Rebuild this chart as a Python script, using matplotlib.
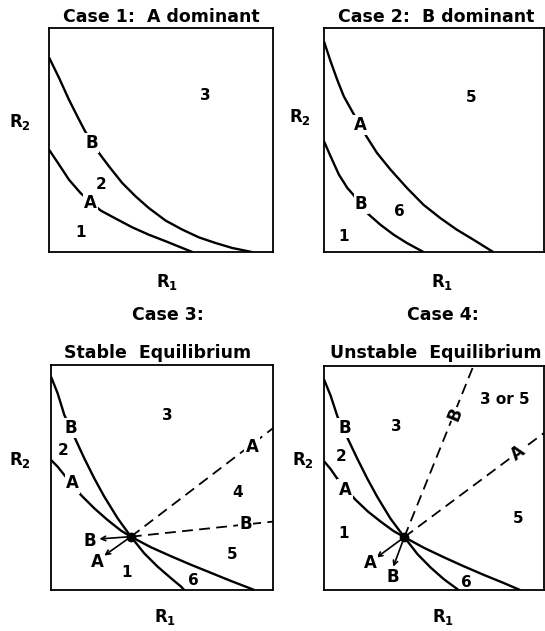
import matplotlib
matplotlib.use("Agg")
import matplotlib.pyplot as plt

# ---- data (box coords 0..1) ----
# Case 1: A dominant
c1_B_x = [0, 0.045, 0.089, 0.134, 0.161, 0.220, 0.268, 0.327, 0.387, 0.446,
          0.521, 0.595, 0.670, 0.744, 0.818, 0.905]
c1_B_y = [0.869, 0.777, 0.680, 0.591, 0.539, 0.446, 0.382, 0.308, 0.248,
          0.196, 0.140, 0.100, 0.065, 0.040, 0.018, 0]
c1_A_x = [0, 0.045, 0.089, 0.141, 0.231, 0.298, 0.372, 0.446, 0.521, 0.595, 0.64]
c1_A_y = [0.457, 0.390, 0.323, 0.263, 0.185, 0.149, 0.110, 0.077, 0.048,
          0.018, 0]

# Case 2: B dominant
c2_A_x = [0, 0.030, 0.060, 0.090, 0.128, 0.193, 0.241, 0.302, 0.377, 0.452,
          0.528, 0.603, 0.679, 0.769]
c2_A_y = [0.94, 0.851, 0.769, 0.695, 0.628, 0.516, 0.442, 0.368, 0.286, 0.211,
          0.152, 0.100, 0.055, 0]
c2_B_x = [0, 0.030, 0.068, 0.106, 0.133, 0.196, 0.256, 0.317, 0.377, 0.452]
c2_B_y = [0.494, 0.427, 0.345, 0.286, 0.256, 0.174, 0.122, 0.077, 0.040, 0]

# Case 3: stable equilibrium
c3_B_x = [0, 0.030, 0.060, 0.105, 0.150, 0.195, 0.240, 0.300, 0.360, 0.420,
          0.480, 0.541, 0.586, 0.600]
c3_B_y = [0.948, 0.874, 0.778, 0.681, 0.585, 0.496, 0.415, 0.319, 0.237,
          0.163, 0.104, 0.052, 0.015, 0]
c3_A_x = [0, 0.030, 0.060, 0.135, 0.195, 0.255, 0.315, 0.360, 0.450, 0.541,
          0.631, 0.721, 0.811, 0.916]
c3_A_y = [0.578, 0.548, 0.511, 0.422, 0.363, 0.311, 0.264, 0.237, 0.190,
          0.150, 0.112, 0.076, 0.040, 0]
c3_eq = (0.360, 0.237)
c3_dashA_end = (1.0, 0.719)
c3_dashB_end = (1.0, 0.304)
c3_arrB_end = (0.218, 0.227)
c3_arrA_end = (0.240, 0.153)

# Case 4: unstable equilibrium
c4_B_x = [0, 0.030, 0.062, 0.107, 0.152, 0.197, 0.242, 0.302, 0.365, 0.425,
          0.485, 0.545, 0.595, 0.611]
c4_B_y = [0.94, 0.868, 0.772, 0.678, 0.585, 0.497, 0.416, 0.319, 0.236, 0.160,
          0.100, 0.048, 0.012, 0]
c4_A_x = [0, 0.030, 0.058, 0.141, 0.200, 0.258, 0.315, 0.365, 0.455, 0.545,
          0.635, 0.725, 0.815, 0.891]
c4_A_y = [0.575, 0.540, 0.500, 0.405, 0.350, 0.305, 0.264, 0.236, 0.188,
          0.146, 0.106, 0.068, 0.032, 0]
c4_eq = (0.365, 0.236)
c4_dashB_end = (0.679, 1.0)
c4_dashA_end = (1.0, 0.701)
c4_arrA_end = (0.239, 0.145)
c4_arrB_end = (0.315, 0.104)

# labels: (text, x, y)
c1_labels = [("B", 0.19, 0.487), ("A", 0.186, 0.219)]
c1_regions = [("3", 0.70, 0.70), ("2", 0.231, 0.30), ("1", 0.141, 0.085)]
c2_labels = [("A", 0.166, 0.568), ("B", 0.169, 0.214)]
c2_regions = [("5", 0.671, 0.69), ("6", 0.344, 0.182), ("1", 0.087, 0.07)]
c3_labels = [("B", 0.090, 0.721), ("A", 0.098, 0.474), ("A", 0.905, 0.637),
             ("B", 0.878, 0.292), ("B", 0.177, 0.218), ("A", 0.207, 0.126)]
c3_regions = [("3", 0.523, 0.775), ("2", 0.053, 0.622), ("4", 0.841, 0.433),
              ("5", 0.815, 0.159), ("1", 0.342, 0.079), ("6", 0.643, 0.044)]
c4_labels = [("B", 0.095, 0.724), ("A", 0.095, 0.448), ("A", 0.209, 0.119),
             ("B", 0.315, 0.06)]
c4_rot_labels = [("B", 0.595, 0.784, 68), ("A", 0.883, 0.612, 37)]
c4_regions = [("3", 0.33, 0.731), ("3 or 5", 0.823, 0.851), ("2", 0.08, 0.597),
              ("1", 0.088, 0.254), ("5", 0.883, 0.321), ("6", 0.648, 0.033)]

W, H = 545, 631
fig = plt.figure(figsize=(W / 100, H / 100), dpi=100)


def box(x0, y0, x1, y1):
    # pixel box (top-left origin) -> axes
    ax = fig.add_axes([x0 / W, 1 - y1 / H, (x1 - x0) / W, (y1 - y0) / H])
    ax.set_xlim(0, 1)
    ax.set_ylim(0, 1)
    ax.set_xticks([])
    ax.set_yticks([])
    for s in ax.spines.values():
        s.set_linewidth(1.3)
    return ax


def curve(ax, x, y):
    ax.plot(x, y, color="black", lw=1.7, solid_capstyle="butt",
            solid_joinstyle="round", zorder=2)


def dashed(ax, p0, p1):
    ax.plot([p0[0], p1[0]], [p0[1], p1[1]], color="black", lw=1.3,
            dashes=(6, 3.5), zorder=2)


def arrow(ax, p0, p1):
    ax.annotate("", xy=p1, xytext=p0,
                arrowprops=dict(arrowstyle="->", lw=1.2, color="black",
                                shrinkA=0, shrinkB=0, mutation_scale=8))


def label(ax, t, x, y, rot=0):
    ax.text(x, y, t, ha="center", va="center", fontsize=12, fontweight="bold",
            rotation=rot, zorder=5,
            bbox=dict(facecolor="white", edgecolor="none", pad=0.8))


def region(ax, t, x, y):
    ax.text(x, y, t, ha="center", va="center", fontsize=11,
            fontweight="bold", zorder=5)


def ftext(t, x, y, size=12.5):
    fig.text(x / W, 1 - y / H, t, ha="center", va="center", fontsize=size,
             fontweight="bold")


# panel 1
ax1 = box(49, 28, 273, 252)
curve(ax1, c1_B_x, c1_B_y)
curve(ax1, c1_A_x, c1_A_y)
for t, x, y in c1_labels:
    label(ax1, t, x, y)
for t, x, y in c1_regions:
    region(ax1, t, x, y)

# panel 2
ax2 = box(324, 28, 544, 252)
curve(ax2, c2_A_x, c2_A_y)
curve(ax2, c2_B_x, c2_B_y)
for t, x, y in c2_labels:
    label(ax2, t, x, y)
for t, x, y in c2_regions:
    region(ax2, t, x, y)

# panel 3
ax3 = box(51, 365, 273, 590)
curve(ax3, c3_B_x, c3_B_y)
curve(ax3, c3_A_x, c3_A_y)
dashed(ax3, c3_eq, c3_dashA_end)
dashed(ax3, c3_eq, c3_dashB_end)
arrow(ax3, c3_eq, c3_arrB_end)
arrow(ax3, c3_eq, c3_arrA_end)
ax3.plot(*c3_eq, "o", color="black", ms=6, zorder=4)
for t, x, y in c3_labels:
    label(ax3, t, x, y)
for t, x, y in c3_regions:
    region(ax3, t, x, y)

# panel 4
ax4 = box(324, 366, 544, 590)
curve(ax4, c4_B_x, c4_B_y)
curve(ax4, c4_A_x, c4_A_y)
dashed(ax4, c4_eq, c4_dashB_end)
dashed(ax4, c4_eq, c4_dashA_end)
arrow(ax4, c4_eq, c4_arrA_end)
arrow(ax4, c4_eq, c4_arrB_end)
ax4.plot(*c4_eq, "o", color="black", ms=6, zorder=4)
for t, x, y in c4_labels:
    label(ax4, t, x, y)
for t, x, y, r in c4_rot_labels:
    label(ax4, t, x, y, r)
for t, x, y in c4_regions:
    region(ax4, t, x, y)

# titles
ftext("Case 1:  A dominant", 161, 17)
ftext("Case 2:  B dominant", 436, 17)
ftext("Case 3:", 168, 315)
ftext("Stable  Equilibrium", 158, 353)
ftext("Case 4:", 443, 315)
ftext("Unstable  Equilibrium", 436, 353)

# axis names
r2 = r"$\mathbf{R_2}$"
r1 = r"$\mathbf{R_1}$"
for x, y in [(20, 122), (300, 117), (20, 460), (303, 460)]:
    ftext(r2, x, y, 12)
for x, y in [(167, 282), (442, 282), (165, 617), (443, 617)]:
    ftext(r1, x, y, 12)

fig.savefig("out.png", dpi=100)
